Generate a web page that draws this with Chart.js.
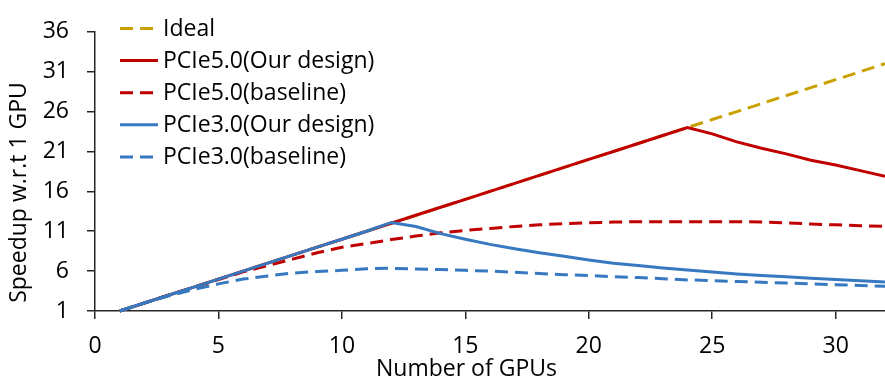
<!DOCTYPE html>
<html>
<head>
<meta charset="utf-8">
<script src="https://cdn.jsdelivr.net/npm/chart.js@4.4.0/dist/chart.umd.min.js"></script>
<style>
  html, body { margin: 0; padding: 0; background: #fff; }
  #wrap { width: 885px; height: 385px; position: relative; }
</style>
</head>
<body>
<div id="wrap"><canvas id="speedup"></canvas></div>
<script>
// Speedup vs number of GPUs

const gpus = [1, 2, 3, 4, 5, 6, 7, 8, 9, 10, 11, 12, 13, 14, 15, 16,
  17, 18, 19, 20, 21, 22, 23, 24, 25, 26, 27, 28, 29, 30, 31, 32];

const ideal = [1, 2, 3, 4, 5, 6, 7, 8, 9, 10, 11, 12, 13, 14, 15, 16,
  17, 18, 19, 20, 21, 22, 23, 24, 25, 26, 27, 28, 29, 30, 31, 32];

const pcie5Ours = [1, 2, 3, 4, 5, 6, 7, 8, 9, 10, 11, 12, 13, 14, 15, 16,
  17, 18, 19, 20, 21, 22, 23, 24, 23.2, 22.2, 21.4, 20.7, 19.9, 19.3, 18.6, 17.9];

const pcie5Base = [1, 2, 3, 3.95, 4.95, 5.9, 6.7, 7.5, 8.3, 9.0, 9.45, 9.95, 10.4, 10.8, 11.1, 11.35,
  11.6, 11.8, 11.95, 12.05, 12.15, 12.2, 12.2, 12.2, 12.2, 12.2, 12.15, 12.05, 11.9, 11.8, 11.7, 11.6];

const pcie3Ours = [1, 2, 3, 4, 5, 6, 7, 8, 9, 10, 11, 12.1, 11.6, 10.7, 10.0, 9.35,
  8.8, 8.3, 7.85, 7.4, 7.0, 6.7, 6.4, 6.15, 5.9, 5.65, 5.45, 5.3, 5.1, 4.95, 4.8, 4.65];

const pcie3Base = [1, 2, 2.9, 3.7, 4.4, 5.0, 5.4, 5.75, 5.95, 6.1, 6.3, 6.35, 6.25, 6.2, 6.1, 6.0,
  5.85, 5.7, 5.55, 5.45, 5.3, 5.2, 5.05, 4.9, 4.8, 4.7, 4.6, 4.5, 4.4, 4.3, 4.2, 4.1];

const xTicks = [0, 5, 10, 15, 20, 25, 30];
const yTicks = [1, 6, 11, 16, 21, 26, 31, 36];

const seriesLabels = ['Ideal', 'PCIe5.0(Our design)', 'PCIe5.0(baseline)', 'PCIe3.0(Our design)', 'PCIe3.0(baseline)'];
const xTitle = 'Number of GPUs';
const yTitle = 'Speedup w.r.t 1 GPU';

const COLORS = {
  gold: '#C9A000',
  red: '#C00000',
  blue: '#3779C1',
  axis: '#262626',
  text: '#000000',
};
const FONT_FAMILY = "'Open Sans', 'Liberation Sans', sans-serif";
const FONT_SIZE = 23;
const DASH = [13, 7];

const toPoints = ys => gpus.map((g, i) => ({ x: g, y: ys[i] }));

const lineStyle = (color, dashed, order) => ({
  borderColor: color,
  backgroundColor: color,
  borderWidth: 3,
  borderDash: dashed ? DASH : [],
  pointRadius: 0,
  pointHoverRadius: 0,
  tension: 0,
  fill: false,
  clip: false,
  order,
});

// legend + axis titles drawn by hand so they sit where the reference puts them
const legendAndTitles = {
  id: 'legendAndTitles',
  afterDraw(chart) {
    const ctx = chart.ctx;
    ctx.save();
    ctx.font = `${FONT_SIZE}px ${FONT_FAMILY}`;
    ctx.fillStyle = COLORS.text;

    // legend
    chart.data.datasets.forEach((ds, i) => {
      const y = 28.5 + i * 32.1;
      ctx.save();
      ctx.strokeStyle = ds.borderColor;
      ctx.lineWidth = ds.borderWidth;
      ctx.setLineDash(ds.borderDash || []);
      ctx.beginPath();
      ctx.moveTo(120, y);
      ctx.lineTo(158, y);
      ctx.stroke();
      ctx.restore();
      ctx.textAlign = 'left';
      ctx.textBaseline = 'middle';
      ctx.fillText(ds.label, 163, y + 1);
    });

    // x title
    ctx.textAlign = 'center';
    ctx.textBaseline = 'alphabetic';
    ctx.fillText(xTitle, 466.5, 376);

    // y title
    ctx.translate(26, 192.5);
    ctx.rotate(-Math.PI / 2);
    ctx.fillText(yTitle, 0, 0);
    ctx.restore();
  },
};

const keepTicks = list => scale => {
  scale.ticks = list.map(v => ({ value: v }));
};

new Chart(document.getElementById('speedup'), {
  type: 'line',
  data: {
    datasets: [
      { label: seriesLabels[0], data: toPoints(ideal), ...lineStyle(COLORS.gold, true, 5) },
      { label: seriesLabels[1], data: toPoints(pcie5Ours), ...lineStyle(COLORS.red, false, 3) },
      { label: seriesLabels[2], data: toPoints(pcie5Base), ...lineStyle(COLORS.red, true, 4) },
      { label: seriesLabels[3], data: toPoints(pcie3Ours), ...lineStyle(COLORS.blue, false, 1) },
      { label: seriesLabels[4], data: toPoints(pcie3Base), ...lineStyle(COLORS.blue, true, 2) },
    ],
  },
  options: {
    responsive: true,
    maintainAspectRatio: false,
    animation: false,
    layout: { padding: { top: 13, right: 0, bottom: 0, left: 0 } },
    plugins: {
      legend: { display: false },
      tooltip: { enabled: false },
    },
    scales: {
      x: {
        type: 'linear',
        min: 0,
        max: 32,
        bounds: 'data',
        afterBuildTicks: keepTicks(xTicks),
        ticks: {
          padding: 14,
          color: COLORS.text,
          font: { family: FONT_FAMILY, size: FONT_SIZE },
          maxRotation: 0,
        },
        grid: { drawOnChartArea: false, tickLength: 8, color: COLORS.axis, lineWidth: 1.5 },
        border: { color: COLORS.axis, width: 1.5 },
        afterFit: s => { s.height = 74; },
      },
      y: {
        min: 1,
        max: 36,
        bounds: 'data',
        afterBuildTicks: keepTicks(yTicks),
        ticks: {
          padding: 18,
          color: COLORS.text,
          font: { family: FONT_FAMILY, size: FONT_SIZE },
        },
        grid: { drawOnChartArea: false, tickLength: 8, color: COLORS.axis, lineWidth: 1.5 },
        border: { color: COLORS.axis, width: 1.5 },
        afterFit: s => { s.width = 95; },
      },
    },
  },
  plugins: [legendAndTitles],
});
</script>
</body>
</html>
